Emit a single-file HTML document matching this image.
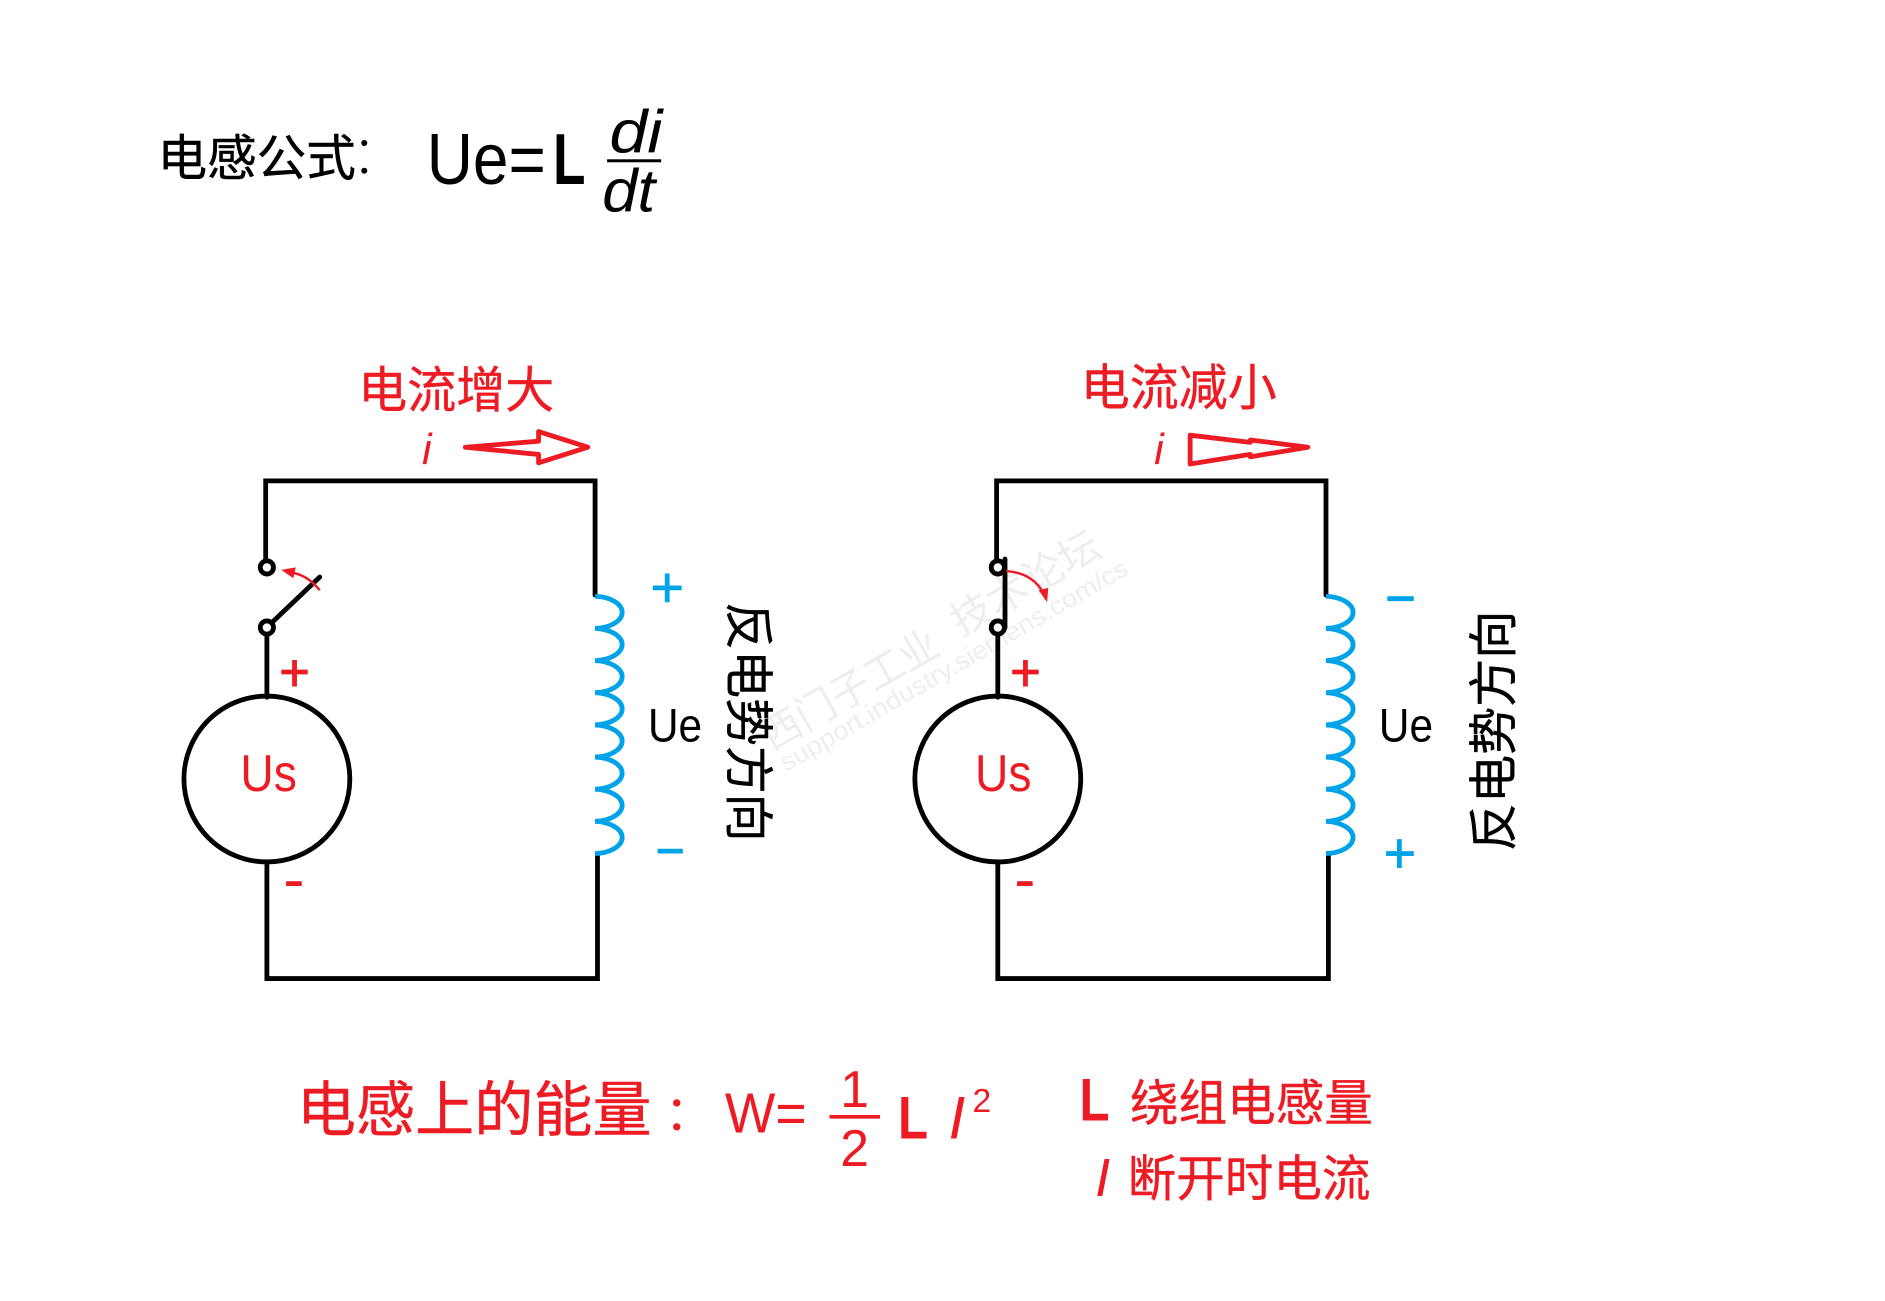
<!DOCTYPE html>
<html lang="zh"><head><meta charset="utf-8"><style>
html,body{margin:0;padding:0;background:#fff}
svg{display:block}
text{font-family:"Liberation Sans","Noto Sans CJK SC",sans-serif}
.r{fill:#ED1C24}.b{fill:#000}
.c{stroke-width:.35}
.c.r{stroke:#ED1C24}.c.b{stroke:#000}
</style></head><body>
<svg width="1885" height="1301" viewBox="0 0 1568 1082.200" preserveAspectRatio="none" xmlns="http://www.w3.org/2000/svg">
<rect width="1568" height="1083" fill="#fff"/>
<!-- watermark -->
<g fill="#eeeeee">
<text x="642" y="625" font-size="34" transform="rotate(-30 642 625)" textLength="164" lengthAdjust="spacingAndGlyphs">西门子工业</text>
<text x="799" y="530" font-size="34" transform="rotate(-30 799 530)" textLength="138" lengthAdjust="spacingAndGlyphs">技术论坛</text>
<text x="654" y="642" font-size="21" transform="rotate(-30 654 642)" textLength="330" lengthAdjust="spacingAndGlyphs">support.industry.siemens.com/cs</text>
</g>
<!-- title formula -->
<text x="131" y="146" font-size="41" class="b c" textLength="165" lengthAdjust="spacingAndGlyphs">电感公式</text>
<circle cx="303" cy="119" r="2.500" fill="#000"/><circle cx="303" cy="142" r="2.500" fill="#000"/>
<text x="355" y="153" font-size="60" class="b" textLength="99" lengthAdjust="spacingAndGlyphs">Ue=</text>
<text x="460" y="153" font-size="60" font-weight="bold" class="b" textLength="27" lengthAdjust="spacingAndGlyphs">L</text>
<text x="507" y="127" font-size="50" font-style="italic" class="b" textLength="44" lengthAdjust="spacingAndGlyphs">di</text>
<rect x="505" y="132.500" width="45" height="2.500" fill="#000"/>
<text x="501" y="176" font-size="50" font-style="italic" class="b" textLength="44" lengthAdjust="spacingAndGlyphs">dt</text>
<!-- left circuit -->
<g fill="none" stroke="#000" stroke-width="4" stroke-linecap="round">
<path d="M221 466V400H495V495"/>
<circle cx="222" cy="472" r="5.500"/>
<circle cx="222" cy="522" r="5.500"/>
<path d="M226 518L266 480"/>
<path d="M222 528V580"/>
<circle cx="222" cy="648" r="69"/>
<path d="M222 717V814H497V710"/>
</g>
<path d="M495 496a24 13.400 0 0 1 0 26.750a24 13.400 0 0 1 0 26.750a24 13.400 0 0 1 0 26.750a24 13.400 0 0 1 0 26.750a24 13.400 0 0 1 0 26.750a24 13.400 0 0 1 0 26.750a24 13.400 0 0 1 0 26.750a24 13.400 0 0 1 0 26.750" fill="none" stroke="#00A2E8" stroke-width="4"/>
<path d="M238 476Q254 476 266 491" fill="none" stroke="#ED1C24" stroke-width="2"/>
<path d="M234 474L246 472L244 481Z" fill="#ED1C24"/>
<path d="M234 559H256M245 549V571" stroke="#ED1C24" stroke-width="4" fill="none"/>
<path d="M238 735H251" stroke="#ED1C24" stroke-width="4"/>
<path d="M543 489H567M555 477V501" stroke="#00A2E8" stroke-width="4" fill="none"/>
<path d="M547 708H568" stroke="#00A2E8" stroke-width="4"/>
<text x="200" y="658" font-size="43" class="r" textLength="47" lengthAdjust="spacingAndGlyphs">Us</text>
<text x="539" y="617" font-size="39" class="b" textLength="45" lengthAdjust="spacingAndGlyphs">Ue</text>
<text x="0" y="0" font-size="41" class="b c" transform="translate(608 501) rotate(90)" textLength="199" lengthAdjust="spacingAndGlyphs">反电势方向</text>
<text x="298" y="339" font-size="41" class="r c" textLength="163" lengthAdjust="spacingAndGlyphs">电流增大</text>
<text x="351" y="386" font-size="36" font-style="italic" class="r">i</text>
<path d="M387 372L448 367V359L489 372L448 385V378Z" fill="none" stroke="#ED1C24" stroke-width="4" stroke-linejoin="round"/>
<!-- right circuit -->
<g fill="none" stroke="#000" stroke-width="4" stroke-linecap="round">
<path d="M829 466V400H1103V495"/>
<circle cx="830" cy="472" r="5.500"/>
<circle cx="830" cy="522" r="5.500"/>
<path d="M836 465V522"/>
<path d="M830 528V580"/>
<circle cx="830" cy="648" r="69"/>
<path d="M830 717V814H1105V710"/>
</g>
<path d="M1103 496a24 13.400 0 0 1 0 26.750a24 13.400 0 0 1 0 26.750a24 13.400 0 0 1 0 26.750a24 13.400 0 0 1 0 26.750a24 13.400 0 0 1 0 26.750a24 13.400 0 0 1 0 26.750a24 13.400 0 0 1 0 26.750a24 13.400 0 0 1 0 26.750" fill="none" stroke="#00A2E8" stroke-width="4"/>
<path d="M837 475Q862 477 870 498" fill="none" stroke="#ED1C24" stroke-width="2"/>
<path d="M864 491L872 489L871 501Z" fill="#ED1C24"/>
<path d="M842 559H864M853 549V571" stroke="#ED1C24" stroke-width="4" fill="none"/>
<path d="M846 735H859" stroke="#ED1C24" stroke-width="4"/>
<path d="M1153 710H1176M1164 698V722" stroke="#00A2E8" stroke-width="4" fill="none"/>
<path d="M1154 498H1176" stroke="#00A2E8" stroke-width="4"/>
<text x="811" y="658" font-size="43" class="r" textLength="47" lengthAdjust="spacingAndGlyphs">Us</text>
<text x="1147" y="617" font-size="39" class="b" textLength="45" lengthAdjust="spacingAndGlyphs">Ue</text>
<text x="0" y="0" font-size="41" class="b c" transform="translate(1257 708) rotate(-90)" textLength="200" lengthAdjust="spacingAndGlyphs">反电势方向</text>
<text x="899" y="337" font-size="41" class="r c" textLength="163" lengthAdjust="spacingAndGlyphs">电流减小</text>
<text x="960" y="386" font-size="36" font-style="italic" class="r">i</text>
<path d="M990 362V386L1040 378V380L1088 372L1040 366V368Z" fill="none" stroke="#ED1C24" stroke-width="4" stroke-linejoin="round"/>
<!-- bottom -->
<text x="247" y="941" font-size="50" class="r c" textLength="295" lengthAdjust="spacingAndGlyphs">电感上的能量</text>
<text x="553" y="940" font-size="40" class="r">：</text>
<text x="603" y="942" font-size="47" class="r" textLength="68" lengthAdjust="spacingAndGlyphs">W=</text>
<text x="699" y="921" font-size="43" class="r">1</text>
<rect x="690" y="927.500" width="42" height="3" fill="#ED1C24"/>
<text x="699" y="970" font-size="43" class="r">2</text>
<text x="747" y="947" font-size="50" font-weight="bold" class="r" textLength="25" lengthAdjust="spacingAndGlyphs">L</text>
<text x="789" y="947" font-size="50" font-style="italic" class="r">I</text>
<text x="809" y="925" font-size="28" class="r">2</text>
<text x="898" y="932" font-size="50" font-weight="bold" class="r" textLength="25" lengthAdjust="spacingAndGlyphs">L</text>
<text x="940" y="932" font-size="41" class="r c" textLength="202" lengthAdjust="spacingAndGlyphs">绕组电感量</text>
<text x="911" y="995" font-size="45" font-style="italic" class="r">I</text>
<text x="938" y="995" font-size="41" class="r c" textLength="202" lengthAdjust="spacingAndGlyphs">断开时电流</text>
</svg>
</body></html>
